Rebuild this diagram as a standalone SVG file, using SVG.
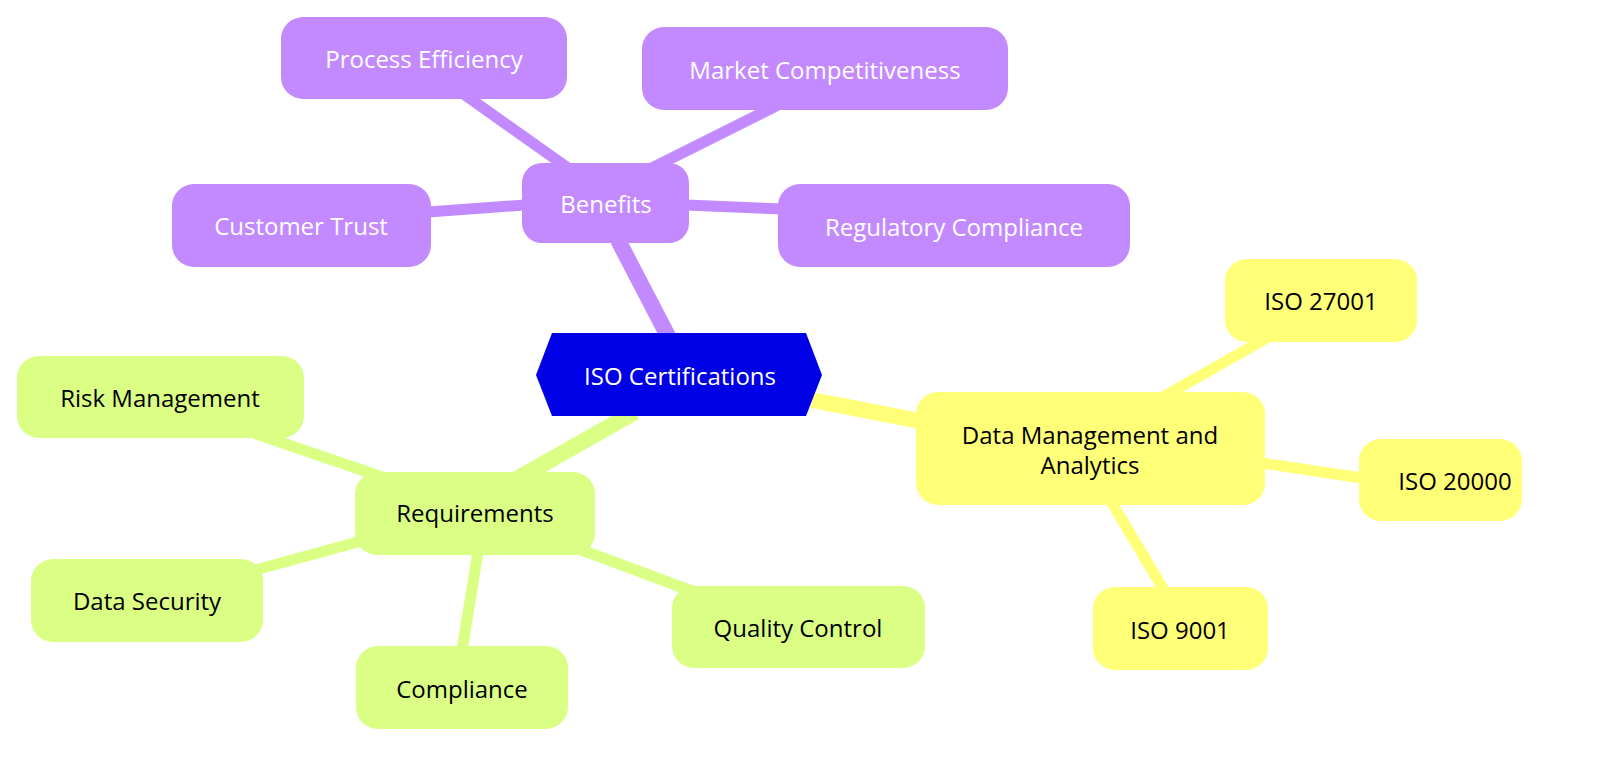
<svg xmlns="http://www.w3.org/2000/svg" width="1600" height="762" viewBox="0 0 1600 762">
<style>
text{font-family:"Open Sans","Noto Sans",sans-serif;font-size:24px;text-anchor:middle;dominant-baseline:central}
.p rect{fill:#C38AFF}.p text{fill:#fff}
.y rect{fill:#FFFF78}.y text{fill:#000}
.g rect{fill:#DAFF84}.g text{fill:#000}
.ep{stroke:#C38AFF}.ey{stroke:#FFFF78}.eg{stroke:#DAFF84}
#edges line{stroke-linecap:butt}
</style>
<rect width="1600" height="762" fill="#fff"/>
<g id="edges">
<line class="ep" x1="670" y1="340" x2="618" y2="240" stroke-width="16"/>
<line class="ey" x1="812" y1="400" x2="925" y2="422" stroke-width="16"/>
<line class="eg" x1="635" y1="412" x2="515" y2="480" stroke-width="16"/>
<line class="ep" x1="568" y1="168" x2="465" y2="95" stroke-width="11"/>
<line class="ep" x1="652" y1="168" x2="778" y2="105" stroke-width="11"/>
<line class="ep" x1="428" y1="212" x2="525" y2="205" stroke-width="11"/>
<line class="ep" x1="686" y1="205" x2="782" y2="209" stroke-width="11"/>
<line class="ey" x1="1163" y1="397" x2="1272" y2="335" stroke-width="11"/>
<line class="ey" x1="1262" y1="463" x2="1362" y2="478" stroke-width="11"/>
<line class="ey" x1="1112" y1="503" x2="1165" y2="592" stroke-width="11"/>
<line class="eg" x1="385" y1="478" x2="245" y2="430" stroke-width="11"/>
<line class="eg" x1="365" y1="540" x2="248" y2="572" stroke-width="11"/>
<line class="eg" x1="478" y1="552" x2="462" y2="650" stroke-width="11"/>
<line class="eg" x1="568" y1="545" x2="708" y2="597" stroke-width="11"/>
</g>
<g id="root"><polygon points="536,375 552,333 806,333 822,375 806,416 552,416" fill="#0000E6"/><text x="680" y="375" fill="#fff">ISO Certifications</text></g>
<g id="benefits" class="p"><rect x="522" y="163" width="167" height="80" rx="20"/><text x="606" y="203">Benefits</text></g>
<g id="process" class="p"><rect x="281" y="17" width="286" height="82" rx="22"/><text x="424" y="58">Process Efficiency</text></g>
<g id="market" class="p"><rect x="642" y="27" width="366" height="83" rx="22"/><text x="825" y="69">Market Competitiveness</text></g>
<g id="trust" class="p"><rect x="172" y="184" width="259" height="83" rx="22"/><text x="301" y="225">Customer Trust</text></g>
<g id="regulatory" class="p"><rect x="778" y="184" width="352" height="83" rx="22"/><text x="954" y="226">Regulatory Compliance</text></g>
<g id="data" class="y"><rect x="916" y="392" width="349" height="113" rx="22"/><text x="1090" y="434">Data Management and</text><text x="1090" y="464">Analytics</text></g>
<g id="iso27001" class="y"><rect x="1225" y="259" width="192" height="83" rx="22"/><text x="1321" y="300">ISO 27001</text></g>
<g id="iso20000" class="y"><rect x="1359" y="439" width="163" height="82" rx="22"/><text x="1455" y="480">ISO 20000</text></g>
<g id="iso9001" class="y"><rect x="1093" y="587" width="175" height="83" rx="22"/><text x="1180" y="629">ISO 9001</text></g>
<g id="requirements" class="g"><rect x="355" y="472" width="240" height="83" rx="22"/><text x="475" y="512">Requirements</text></g>
<g id="risk" class="g"><rect x="17" y="356" width="287" height="82" rx="22"/><text x="160" y="397">Risk Management</text></g>
<g id="security" class="g"><rect x="31" y="559" width="232" height="83" rx="22"/><text x="147" y="600">Data Security</text></g>
<g id="compliance" class="g"><rect x="356" y="646" width="212" height="83" rx="22"/><text x="462" y="688">Compliance</text></g>
<g id="quality" class="g"><rect x="672" y="586" width="253" height="82" rx="22"/><text x="798" y="627">Quality Control</text></g>
</svg>
